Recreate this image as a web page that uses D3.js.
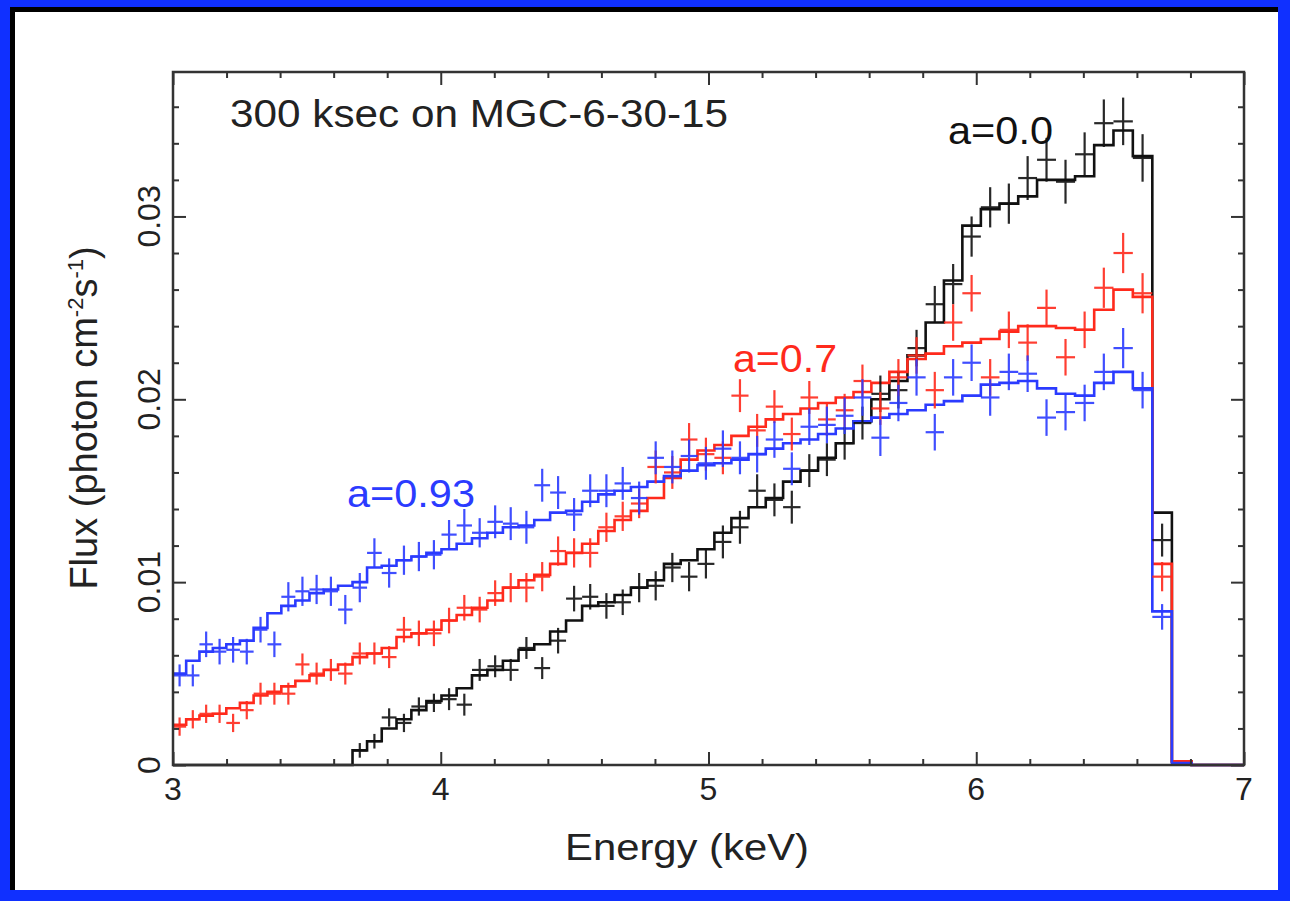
<!DOCTYPE html>
<html>
<head>
<meta charset="utf-8">
<script src="https://cdn.jsdelivr.net/npm/d3@7"></script>
<style>
  html, body { margin: 0; padding: 0; background: #1030ff; }
  svg { display: block; }
  text { font-family: "Liberation Sans", Arial, Helvetica, sans-serif; }
</style>
</head>
<body>
<div id="chart"></div>
<script>
// energy bin edges (keV), last bin runs out to 7 keV with zero flux
var binEdges = [3.0000, 3.0492, 3.0988, 3.1488, 3.1991, 3.2499, 3.3011, 3.3527, 3.4046, 3.4570,
  3.5098, 3.5629, 3.6165, 3.6705, 3.7248, 3.7796, 3.8348, 3.8903, 3.9463, 4.0027,
  4.0594, 4.1166, 4.1742, 4.2321, 4.2905, 4.3493, 4.4085, 4.4680, 4.5280, 4.5883,
  4.6491, 4.7102, 4.7718, 4.8337, 4.8961, 4.9588, 5.0220, 5.0855, 5.1495, 5.2138,
  5.2786, 5.3437, 5.4093, 5.4752, 5.5416, 5.6083, 5.6755, 5.7430, 5.8110, 5.8793,
  5.9481, 6.0172, 6.0868, 6.1567, 6.2271, 6.2978, 6.3690, 6.4405, 6.5125, 6.5848,
  6.6576, 6.7307, 6.8042, 7.0000];

// model (histogram) flux per bin
var modelA0 = [0, 0, 0, 0, 0, 0, 0, 0, 0, 0,
  0, 0, 0, .0008, .0013, .0020, .0025, .0030, .0035, .0038,
  .0042, .0049, .0052, .0057, .0063, .0066, .0073, .0079, .0087, .0089,
  .0093, .0097, .0101, .0110, .0112, .0118, .0127, .0135, .0141, .0146,
  .0155, .0161, .0168, .0176, .0188, .0200, .0210, .0224, .0242, .0265,
  .0295, .0304, .0307, .0311, .0320, .0320, .0322, .0339, .0347, .0333,
  .0138, .0002, 0];
var modelA07 = [.0022, .0025, .0027, .0028, .0031, .0034, .0038, .0040, .0043, .0046,
  .0049, .0052, .0055, .0059, .0061, .0064, .0070, .0072, .0074, .0079,
  .0082, .0086, .0090, .0097, .0101, .0104, .0110, .0116, .0121, .0128,
  .0134, .0139, .0146, .0157, .0167, .0172, .0175, .0180, .0185, .0189,
  .0192, .0195, .0198, .0201, .0204, .0209, .0215, .0222, .0225, .0229,
  .0231, .0233, .0237, .0240, .0240, .0239, .0238, .0249, .0260, .0256,
  .0110, .0002, 0];
var modelA093 = [.0050, .0057, .0062, .0064, .0066, .0068, .0075, .0083, .0087, .0090,
  .0094, .0096, .0098, .0100, .0108, .0109, .0112, .0114, .0116, .0118,
  .0121, .0124, .0127, .0130, .0131, .0134, .0138, .0139, .0144, .0148,
  .0150, .0152, .0155, .0158, .0161, .0164, .0165, .0167, .0170, .0173,
  .0176, .0178, .0181, .0184, .0188, .0190, .0192, .0194, .0197, .0199,
  .0202, .0208, .0209, .0210, .0206, .0203, .0202, .0209, .0215, .0206,
  .0084, .0001, 0];

// simulated data points per bin
var dataA0 = [null, null, null, null, null, null, null, null, null, null,
  null, null, null, .0008, .0013, .0026, .0023, .0032, .0034, .0036,
  .0033, .0052, .0054, .0052, .0064, .0053, .0068, .0091, .0092, .0087,
  .0089, .0097, .0098, .0108, .0103, .0110, .0122, .0130, .0150, .0145,
  .0141, .0161, .0167, .0176, .0187, .0203, .0205, .0228, .0252, .0263,
  .0289, .0305, .0307, .0321, .0331, .0319, .0334, .0351, .0352, .0332,
  .0123];
var errA0 = [null, null, null, null, null, null, null, null, null, null,
  null, null, null, .0004, .0004, .0005, .0005, .0005, .0005, .0006,
  .0006, .0006, .0006, .0006, .0006, .0006, .0007, .0007, .0007, .0007,
  .0007, .0008, .0008, .0008, .0008, .0008, .0009, .0009, .0009, .0009,
  .0009, .0009, .0009, .0009, .0009, .0010, .0010, .0010, .0010, .0011,
  .0011, .0011, .0011, .0012, .0012, .0012, .0012, .0013, .0013, .0013,
  .0009];
var dataA07 = [.0021, .0025, .0028, .0028, .0023, .0030, .0039, .0039, .0039, .0055,
  .0050, .0052, .0050, .0061, .0061, .0059, .0074, .0072, .0072, .0079,
  .0086, .0085, .0094, .0097, .0097, .0103, .0117, .0116, .0116, .0130,
  .0136, .0143, .0163, .0160, .0178, .0170, .0168, .0202, .0183, .0196,
  .0181, .0201, .0189, .0194, .0210, .0195, .0212, .0224, .0205, .0242,
  .0258, .0212, .0238, .0231, .0250, .0223, .0238, .0261, .0280, .0258,
  .0103];
var errA07 = [.0005, .0005, .0005, .0005, .0005, .0005, .0006, .0006, .0006, .0006,
  .0006, .0006, .0006, .0006, .0006, .0006, .0007, .0007, .0007, .0007,
  .0007, .0007, .0007, .0008, .0008, .0008, .0008, .0008, .0008, .0008,
  .0008, .0008, .0009, .0009, .0009, .0009, .0009, .0009, .0009, .0009,
  .0009, .0009, .0009, .0009, .0009, .0009, .0010, .0010, .0010, .0010,
  .0010, .0010, .0010, .0010, .0010, .0010, .0010, .0011, .0011, .0011,
  .0008];
var dataA093 = [.0049, .0049, .0066, .0062, .0063, .0062, .0074, .0066, .0092, .0095,
  .0096, .0095, .0085, .0097, .0116, .0105, .0112, .0114, .0115, .0126,
  .0131, .0127, .0133, .0132, .0130, .0153, .0149, .0137, .0150, .0150,
  .0154, .0146, .0168, .0163, .0169, .0165, .0173, .0168, .0170, .0178,
  .0162, .0185, .0186, .0191, .0201, .0179, .0198, .0212, .0182, .0212,
  .0220, .0201, .0215, .0214, .0190, .0193, .0198, .0215, .0228, .0205,
  .0081];
var errA093 = [.0006, .0006, .0007, .0007, .0007, .0007, .0007, .0007, .0008, .0008,
  .0008, .0008, .0008, .0008, .0008, .0008, .0008, .0008, .0008, .0008,
  .0009, .0008, .0009, .0009, .0009, .0009, .0009, .0009, .0009, .0009,
  .0009, .0009, .0009, .0009, .0009, .0009, .0010, .0009, .0010, .0010,
  .0009, .0010, .0010, .0010, .0010, .0010, .0010, .0010, .0010, .0010,
  .0010, .0010, .0010, .0010, .0010, .0010, .0010, .0010, .0011, .0010,
  .0007];

var xTicks = [3, 4, 5, 6, 7];
var yTicks = [0, 0.01, 0.02, 0.03];
var yTickLabels = ["0", "0.01", "0.02", "0.03"];

var series = [
  {name: "a=0.0", color: "#111111", model: modelA0, data: dataA0, err: errA0, lx: 948, ly: 144, lw: 105},
  {name: "a=0.7", color: "#ff2a1c", model: modelA07, data: dataA07, err: errA07, lx: 733, ly: 372, lw: 104},
  {name: "a=0.93", color: "#2b3bff", model: modelA093, data: dataA093, err: errA093, lx: 347, ly: 507, lw: 128}
];

var W = 1290, H = 901;
var svg = d3.select("#chart").append("svg")
    .attr("width", W)
    .attr("height", H);

// blue page border with the dark inner edge
svg.append("rect").attr("x", 0).attr("y", 0).attr("width", W).attr("height", H).attr("fill", "#1030ff");
svg.append("rect").attr("x", 10).attr("y", 7).attr("width", 1268).attr("height", 883).attr("fill", "#000");
svg.append("rect").attr("x", 15).attr("y", 12).attr("width", 1263).attr("height", 878).attr("fill", "#fff");

var x0 = 173, x1 = 1244, y0 = 765, y1 = 72;
var xScale = d3.scaleLinear().domain([3, 7]).range([x0, x1]);
var yScale = d3.scaleLinear().domain([0, 0.0379]).range([y0, y1]);

var axisColor = "#333";
var plot = svg.append("g");

// ticks on all four sides, pointing inward
var xMinor = d3.range(3, 7.001, 0.2);
var yMinor = d3.range(0, 0.038, 0.002);
function isMajor(v, step) { return Math.abs(v / step - Math.round(v / step)) < 1e-6; }

svg.append("g")
    .attr("transform", "translate(0," + y0 + ")")
    .call(d3.axisBottom(xScale).tickValues(xMinor).tickSize(0).tickFormat(""))
    .call(function(g) {
      g.select(".domain").remove();
      g.selectAll(".tick line").attr("y2", function(d) { return isMajor(d, 1) ? -13 : -6; })
        .attr("stroke", axisColor).attr("stroke-width", 2);
    });
svg.append("g")
    .attr("transform", "translate(0," + y1 + ")")
    .call(d3.axisTop(xScale).tickValues(xMinor).tickSize(0).tickFormat(""))
    .call(function(g) {
      g.select(".domain").remove();
      g.selectAll(".tick line").attr("y2", function(d) { return isMajor(d, 1) ? 13 : 6; })
        .attr("stroke", axisColor).attr("stroke-width", 2);
    });
svg.append("g")
    .attr("transform", "translate(" + x0 + ",0)")
    .call(d3.axisLeft(yScale).tickValues(yMinor).tickSize(0).tickFormat(""))
    .call(function(g) {
      g.select(".domain").remove();
      g.selectAll(".tick line").attr("x2", function(d) { return isMajor(d, 0.01) ? 13 : 6; })
        .attr("stroke", axisColor).attr("stroke-width", 2);
    });
svg.append("g")
    .attr("transform", "translate(" + x1 + ",0)")
    .call(d3.axisRight(yScale).tickValues(yMinor).tickSize(0).tickFormat(""))
    .call(function(g) {
      g.select(".domain").remove();
      g.selectAll(".tick line").attr("x2", function(d) { return isMajor(d, 0.01) ? -13 : -6; })
        .attr("stroke", axisColor).attr("stroke-width", 2);
    });

// model histograms
var stepLine = d3.line()
    .x(function(d) { return xScale(d[0]); })
    .y(function(d) { return yScale(d[1]); })
    .curve(d3.curveStepAfter);

series.forEach(function(s) {
  var pts = s.model.map(function(v, i) { return [binEdges[i], v]; });
  pts.push([binEdges[binEdges.length - 1], s.model[s.model.length - 1]]);
  plot.append("path")
      .datum(pts)
      .attr("fill", "none")
      .attr("stroke", s.color)
      .attr("stroke-width", 2.6)
      .attr("stroke-linejoin", "miter")
      .attr("d", stepLine);
});

// data crosses: bin width horizontally, error bar vertically
series.forEach(function(s) {
  var g = plot.append("g").attr("stroke", s.color).attr("stroke-width", 2.2).attr("opacity", 0.9);
  s.data.forEach(function(v, i) {
    if (v === null) return;
    var xc = xScale((binEdges[i] + binEdges[i + 1]) / 2);
    g.append("line")
        .attr("x1", xScale(binEdges[i])).attr("x2", xScale(binEdges[i + 1]))
        .attr("y1", yScale(v)).attr("y2", yScale(v));
    g.append("line")
        .attr("x1", xc).attr("x2", xc)
        .attr("y1", yScale(v - s.err[i])).attr("y2", yScale(v + s.err[i]));
  });
});

// frame
svg.append("rect")
    .attr("x", x0).attr("y", y1)
    .attr("width", x1 - x0).attr("height", y0 - y1)
    .attr("fill", "none")
    .attr("stroke", axisColor)
    .attr("stroke-width", 2.5);

// tick labels
svg.append("g").selectAll("text")
    .data(xTicks)
    .enter().append("text")
    .attr("x", function(d) { return xScale(d); })
    .attr("y", 800)
    .attr("text-anchor", "middle")
    .attr("font-size", 32)
    .attr("fill", "#222")
    .text(function(d) { return d; });

svg.append("g").selectAll("text")
    .data(yTicks)
    .enter().append("text")
    .attr("transform", function(d) { return "translate(160," + yScale(d) + ") rotate(-90)"; })
    .attr("text-anchor", "middle")
    .attr("font-size", 32)
    .attr("fill", "#222")
    .text(function(d, i) { return yTickLabels[i]; });

// axis titles
svg.append("text")
    .attr("x", 687).attr("y", 860)
    .attr("text-anchor", "middle")
    .attr("font-size", 36)
    .attr("textLength", 244)
    .attr("lengthAdjust", "spacingAndGlyphs")
    .attr("fill", "#222")
    .text("Energy (keV)");

var yTitle = svg.append("text")
    .attr("transform", "translate(97,418) rotate(-90)")
    .attr("text-anchor", "middle")
    .attr("font-size", 38)
    .attr("fill", "#222");
yTitle.append("tspan").text("Flux (photon cm");
yTitle.append("tspan").attr("font-size", 22).attr("dy", -14).text("-2");
yTitle.append("tspan").attr("dy", 14).text("s");
yTitle.append("tspan").attr("font-size", 22).attr("dy", -14).text("-1");
yTitle.append("tspan").attr("dy", 14).text(")");

// annotations
svg.append("text")
    .attr("x", 230).attr("y", 127)
    .attr("font-size", 38)
    .attr("textLength", 498)
    .attr("lengthAdjust", "spacingAndGlyphs")
    .attr("fill", "#222")
    .text("300 ksec on MGC-6-30-15");

series.forEach(function(s) {
  svg.append("text")
      .attr("x", s.lx).attr("y", s.ly)
      .attr("font-size", 38)
      .attr("textLength", s.lw)
      .attr("lengthAdjust", "spacingAndGlyphs")
      .attr("fill", s.color)
      .text(s.name);
});
</script>
</body>
</html>
